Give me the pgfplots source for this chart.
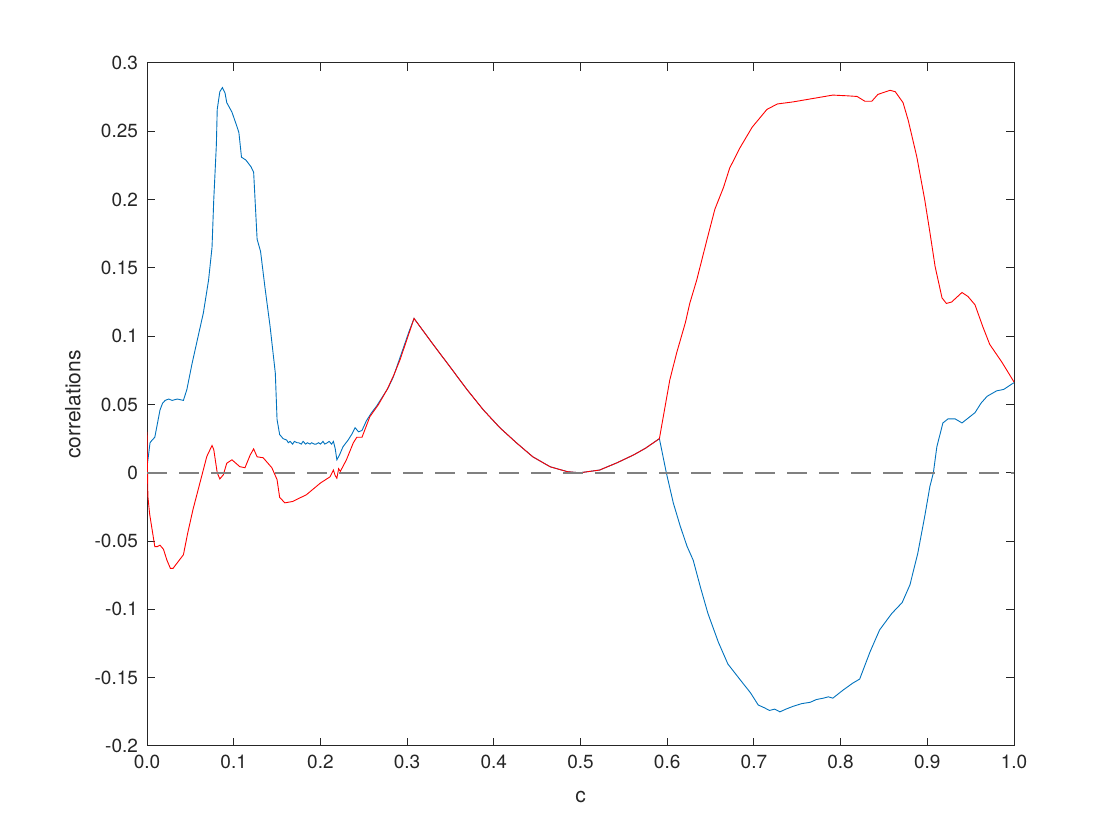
\documentclass[border=0pt]{standalone}
\usepackage{fontspec}
\setmainfont{TeX Gyre Heros}
\usepackage{pgfplots}
\pgfplotsset{compat=1.18}
\definecolor{mblue}{RGB}{0,114,189}
\definecolor{mred}{RGB}{255,0,0}
\definecolor{mgray}{RGB}{128,128,128}
\definecolor{axgray}{RGB}{38,38,38}
\begin{document}
\begin{tikzpicture}
\path[use as bounding box] (0,0) rectangle (560pt,420pt);
\begin{axis}[
  at={(73.5pt,47pt)}, anchor=south west,
  width=433.5pt, height=341.5pt, scale only axis,
  xmin=0, xmax=1, ymin=-0.2, ymax=0.3,
  xtick={0,0.1,0.2,0.3,0.4,0.5,0.6,0.7,0.8,0.9,1},
  xticklabels={0.0,0.1,0.2,0.3,0.4,0.5,0.6,0.7,0.8,0.9,1.0},
  ytick={-0.2,-0.15,-0.1,-0.05,0,0.05,0.1,0.15,0.2,0.25,0.3},
  yticklabels={-0.2,-0.15,-0.1,-0.05,0,0.05,0.1,0.15,0.2,0.25,0.3},
  tick align=inside, major tick length=4pt,
  tick style={axgray, line width=0.5pt},
  axis line style={axgray, line width=0.5pt},
  ticklabel style={font=\fontsize{9.5}{11}\selectfont, text=axgray},
  xticklabel style={yshift=-1pt},
  yticklabel style={xshift=-1pt},
  label style={font=\fontsize{10.5}{12}\selectfont, text=axgray},
  xlabel={c}, ylabel={correlations},
  xlabel style={at={([yshift=-25.5pt]axis description cs:0.5,0)}, anchor=center},
  ylabel style={at={([xshift=-37pt]axis description cs:0,0.5)}, anchor=center},
  /pgf/number format/assume math mode=true,
  clip=true,
]
\addplot[mblue, line width=0.45pt] coordinates {
(0.000,0.004)(0.0035,0.022)(0.006,0.024)(0.009,0.026)(0.012,0.036)(0.015,0.046)(0.018,0.051)(0.021,0.053)
(0.025,0.054)(0.029,0.053)(0.035,0.054)(0.042,0.053)(0.046,0.061)(0.052,0.080)(0.059,0.100)
(0.065,0.117)(0.071,0.141)(0.075,0.165)(0.077,0.200)(0.080,0.240)(0.081,0.266)(0.084,0.279)
(0.087,0.282)(0.090,0.278)(0.092,0.271)(0.098,0.264)(0.104,0.253)(0.106,0.249)(0.109,0.231)
(0.114,0.229)(0.120,0.224)(0.123,0.220)(0.127,0.171)(0.131,0.162)(0.136,0.136)(0.142,0.107)
(0.148,0.073)(0.150,0.039)(0.153,0.028)(0.157,0.025)(0.161,0.024)(0.163,0.022)(0.165,0.023)(0.168,0.021)
(0.170,0.023)(0.173,0.022)(0.175,0.022)(0.178,0.021)(0.180,0.023)(0.183,0.021)(0.185,0.022)
(0.188,0.021)(0.190,0.022)(0.193,0.021)(0.195,0.021)(0.198,0.022)(0.200,0.021)(0.203,0.023)
(0.205,0.021)(0.208,0.022)(0.210,0.023)(0.213,0.021)(0.215,0.023)(0.217,0.018)(0.219,0.0095)
(0.222,0.013)(0.226,0.019)(0.232,0.024)(0.236,0.028)(0.240,0.033)(0.244,0.030)(0.248,0.031)(0.253,0.038)
(0.259,0.044)(0.265,0.049)(0.272,0.056)(0.278,0.062)(0.284,0.070)(0.290,0.081)(0.296,0.092)
(0.302,0.103)(0.308,0.113)(0.330,0.094)(0.349,0.078)(0.369,0.061)(0.388,0.046)(0.407,0.033)
(0.426,0.022)(0.445,0.0117)(0.465,0.0044)(0.485,0.0008)(0.499,0.000)(0.522,0.002)(0.542,0.0073)
(0.561,0.013)(0.575,0.018)(0.591,0.025)
(0.599,0.000)(0.607,-0.022)(0.615,-0.039)(0.623,-0.054)(0.630,-0.064)(0.638,-0.083)
(0.647,-0.103)(0.659,-0.124)(0.670,-0.140)(0.686,-0.153)(0.696,-0.161)(0.705,-0.170)
(0.712,-0.172)(0.718,-0.174)(0.724,-0.173)(0.730,-0.175)(0.737,-0.173)(0.745,-0.171)(0.755,-0.169)(0.765,-0.168)
(0.772,-0.166)(0.780,-0.165)(0.786,-0.164)(0.791,-0.165)(0.797,-0.162)(0.803,-0.159)(0.814,-0.154)(0.822,-0.151)
(0.825,-0.146)(0.834,-0.131)(0.845,-0.115)(0.859,-0.103)(0.871,-0.095)(0.880,-0.082)
(0.889,-0.059)(0.897,-0.032)(0.903,-0.010)(0.907,0.000)(0.911,0.019)(0.918,0.0365)
(0.924,0.0395)(0.932,0.0395)(0.940,0.0365)(0.947,0.040)(0.955,0.044)(0.962,0.051)(0.969,0.056)
(0.980,0.060)(0.988,0.061)(1.000,0.066)
};
\addplot[mred, line width=0.45pt] coordinates {
(0.000,0.030)(0.001,-0.017)(0.003,-0.030)(0.006,-0.042)(0.009,-0.054)(0.012,-0.054)(0.015,-0.053)(0.019,-0.056)
(0.023,-0.064)(0.027,-0.070)(0.030,-0.070)(0.036,-0.065)(0.042,-0.060)(0.047,-0.044)
(0.053,-0.027)(0.061,-0.0075)(0.069,0.012)(0.075,0.020)(0.077,0.017)(0.081,0.000)
(0.084,-0.0045)(0.088,-0.0015)(0.092,0.007)(0.098,0.0095)(0.107,0.0045)(0.113,0.0037)
(0.119,0.013)(0.123,0.0175)(0.127,0.0117)(0.134,0.011)(0.144,0.0037)(0.150,-0.005)
(0.153,-0.018)(0.159,-0.022)(0.168,-0.021)(0.184,-0.016)(0.200,-0.0075)(0.211,-0.003)
(0.215,0.002)(0.217,-0.002)(0.219,-0.004)(0.221,0.003)(0.223,0.001)(0.230,0.0095)
(0.238,0.022)(0.242,0.026)(0.248,0.026)(0.257,0.041)(0.267,0.050)(0.277,0.061)(0.285,0.072)
(0.292,0.083)(0.300,0.098)(0.308,0.113)(0.330,0.094)(0.349,0.078)(0.369,0.061)(0.388,0.046)
(0.407,0.033)(0.426,0.022)(0.445,0.0117)(0.465,0.0044)(0.485,0.0008)(0.499,0.000)
(0.522,0.002)(0.542,0.0073)(0.561,0.013)(0.575,0.018)(0.591,0.025)(0.603,0.068)(0.611,0.088)
(0.621,0.110)(0.626,0.124)(0.634,0.141)(0.646,0.171)(0.655,0.193)(0.665,0.209)(0.672,0.223)
(0.684,0.238)(0.698,0.253)(0.715,0.266)(0.727,0.270)(0.745,0.2715)(0.768,0.274)(0.791,0.2765)
(0.807,0.276)(0.819,0.2755)(0.828,0.272)(0.836,0.272)(0.843,0.277)(0.857,0.280)(0.863,0.279)
(0.872,0.271)(0.878,0.258)(0.888,0.231)(0.897,0.200)(0.903,0.176)(0.909,0.151)(0.917,0.128)
(0.922,0.124)(0.928,0.125)(0.940,0.132)(0.947,0.129)(0.955,0.123)(0.964,0.107)(0.972,0.094)
(0.986,0.081)(1.000,0.0665)
};
\addplot[mgray, line width=1pt, dash pattern=on 10pt off 6pt] coordinates {(0,0)(1,0)};
\end{axis}
\end{tikzpicture}
\end{document}
